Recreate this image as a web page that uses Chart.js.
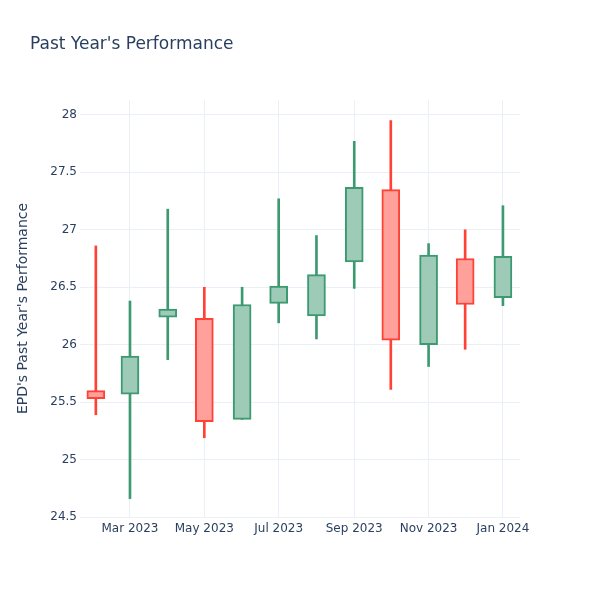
<!DOCTYPE html>
<html>
<head>
<meta charset="utf-8">
<script src="https://cdn.jsdelivr.net/npm/chart.js@4.4.1/dist/chart.umd.min.js"></script>
<style>
html, body { margin: 0; padding: 0; background: #fff; }
</style>
</head>
<body>
<canvas id="chart" width="600" height="600"></canvas>
<script>
// monthly candles, one per month start
const months = ['2023-02-01', '2023-03-01', '2023-04-01', '2023-05-01', '2023-06-01', '2023-07-01',
	'2023-08-01', '2023-09-01', '2023-10-01', '2023-11-01', '2023-12-01', '2024-01-01'];
const openVals = [25.60, 25.57, 26.24, 26.23, 25.35, 26.36, 26.25, 26.72, 27.35, 26.00, 26.75, 26.41];
const highVals = [26.86, 26.38, 27.18, 26.50, 26.50, 27.27, 26.95, 27.77, 27.95, 26.88, 27.00, 27.21];
const lowVals = [25.39, 24.66, 25.87, 25.19, 25.35, 26.19, 26.05, 26.49, 25.61, 25.81, 25.96, 26.34];
const closeVals = [25.53, 25.90, 26.31, 25.33, 26.35, 26.51, 26.61, 27.37, 26.04, 26.78, 26.35, 26.77];

const tickMonths = ['2023-03-01', '2023-05-01', '2023-07-01', '2023-09-01', '2023-11-01', '2024-01-01'];
const tickLabels = ['Mar 2023', 'May 2023', 'Jul 2023', 'Sep 2023', 'Nov 2023', 'Jan 2024'];
const yTicks = [24.5, 25, 25.5, 26, 26.5, 27, 27.5, 28];

const UP = '#3D9970';
const DOWN = '#FF4136';
const UP_FILL = '#9ecbb7';
const DOWN_FILL = '#ffa09b';
const TEXT = '#2a3f5f';
const GRID = '#ebf0f8';
const FONT = '"DejaVu Sans", sans-serif';

function day (d) {
	return Date.parse(d + 'T00:00:00Z') / 86400000;
}

function is_up (i) {
	return closeVals[i] >= openVals[i];
}

const title_plugin = {
	id: 'title_text',
	afterDraw (chart) {
		let ctx = chart.ctx;
		ctx.save();
		ctx.font = '17px ' + FONT;
		ctx.fillStyle = TEXT;
		ctx.textBaseline = 'middle';
		ctx.fillText("Past Year's Performance", 30, 45);
		ctx.restore();
	}
};

const wicks = {
	type: 'bar',
	label: 'wick',
	data: months.map((m, i) => ({ x: day(m), y: [lowVals[i], highVals[i]] })),
	backgroundColor: ctx => is_up(ctx.dataIndex) ? UP : DOWN,
	barThickness: 2,
	grouped: false,
	order: 2
};

const bodies = {
	type: 'bar',
	label: 'body',
	data: months.map((m, i) => ({ x: day(m), y: [openVals[i], closeVals[i]] })),
	backgroundColor: ctx => is_up(ctx.dataIndex) ? UP_FILL : DOWN_FILL,
	borderColor: ctx => is_up(ctx.dataIndex) ? UP : DOWN,
	borderWidth: 2,
	borderSkipped: false,
	barThickness: 18,
	grouped: false,
	order: 1
};

new Chart(document.getElementById('chart'), {
	type: 'bar',
	data: { datasets: [wicks, bodies] },
	plugins: [title_plugin],
	options: {
		responsive: false,
		animation: false,
		layout: { padding: { top: 100, right: 80, bottom: 0, left: 0 } },
		plugins: {
			legend: { display: false },
			tooltip: { enabled: false }
		},
		scales: {
			x: {
				type: 'linear',
				offset: false,
				min: day('2023-01-19'),
				max: day('2024-01-15'),
				afterBuildTicks: scale => {
					scale.ticks = tickMonths.map(m => ({ value: day(m) }));
				},
				afterFit: scale => { scale.height = 83; },
				grid: { color: GRID, drawTicks: false, offset: false },
				border: { display: false },
				ticks: {
					color: TEXT,
					font: { family: FONT, size: 12 },
					padding: 5,
					maxRotation: 0,
					autoSkip: false,
					callback: (value, index) => tickLabels[index]
				}
			},
			y: {
				min: 24.5,
				max: 28.13,
				afterBuildTicks: scale => {
					scale.ticks = yTicks.map(v => ({ value: v }));
				},
				afterFit: scale => { scale.width = 80; },
				grid: { color: GRID, drawTicks: false },
				border: { display: false },
				ticks: {
					color: TEXT,
					font: { family: FONT, size: 12 },
					padding: 3,
					callback: value => String(value)
				},
				title: {
					display: true,
					text: "EPD's Past Year's Performance",
					color: TEXT,
					font: { family: FONT, size: 14 },
					padding: { top: 15, bottom: 0 }
				}
			}
		}
	}
});
</script>
</body>
</html>
